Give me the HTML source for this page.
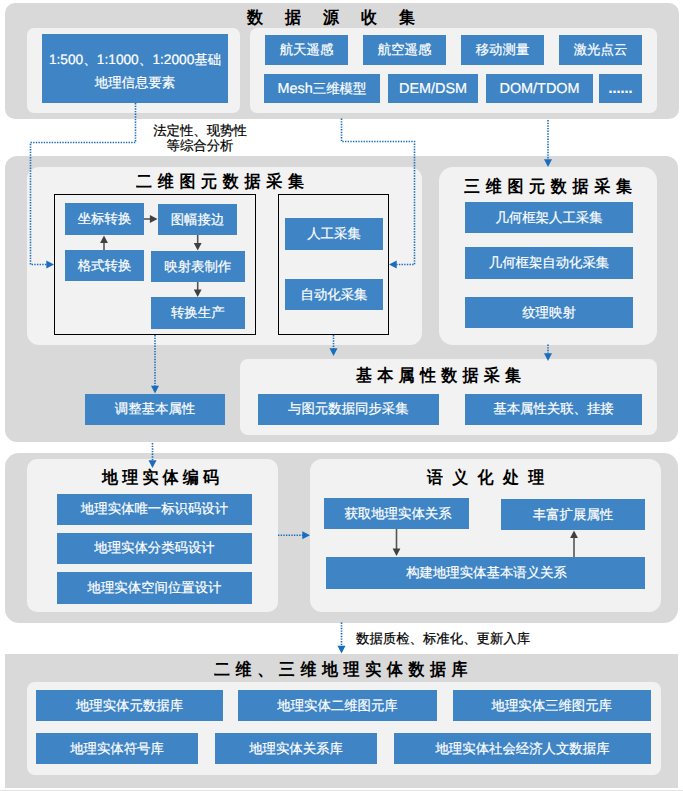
<!DOCTYPE html>
<html><head><meta charset="utf-8"><style>
html,body{margin:0;padding:0;background:#fff;}
body{width:683px;height:791px;position:relative;overflow:hidden;font-family:"Liberation Sans",sans-serif;text-rendering:geometricPrecision;}
.b{position:absolute;background:#3f85c5;color:#fff;-webkit-text-stroke:0.2px #fff;text-align:center;white-space:nowrap;}
.t{position:absolute;font-weight:bold;color:#000;line-height:22px;transform:scaleY(1.06);transform-origin:50% 50%;}
.a{position:absolute;font-size:13.4px;line-height:15.5px;color:#000;-webkit-text-stroke:0.2px #000;text-align:center;white-space:nowrap;}
svg{position:absolute;left:0;top:0;}
.L{font-size:14.4px;}
</style></head><body>
<div style="position:absolute;left:5px;top:3px;width:674px;height:115.5px;background:#d9d9d9;border-radius:10px;"></div><div class="t" style="left:247.0px;top:8.2px;font-size:16px;">数</div><div class="t" style="left:285.0px;top:8.2px;font-size:16px;">据</div><div class="t" style="left:323.0px;top:8.2px;font-size:16px;">源</div><div class="t" style="left:361.0px;top:8.2px;font-size:16px;">收</div><div class="t" style="left:399.0px;top:8.2px;font-size:16px;">集</div><div style="position:absolute;left:27px;top:28px;width:213px;height:84.5px;background:#f2f2f2;border-radius:7px;"></div><div style="position:absolute;left:250px;top:28px;width:407px;height:84.5px;background:#f2f2f2;border-radius:7px;"></div><div class="b" style="left:42px;top:34px;width:186px;height:69px;font-size:13.4px;line-height:23px;padding-top:14px;box-sizing:border-box;"><span style="font-size:13.7px">1:500、1:1000、1:2000</span>基础<br>地理信息要素</div><div class="b" style="left:265px;top:35px;width:83px;height:30px;line-height:30px;font-size:13.4px;">航天遥感</div><div class="b" style="left:363px;top:35px;width:83px;height:30px;line-height:30px;font-size:13.4px;">航空遥感</div><div class="b" style="left:461px;top:35px;width:83px;height:30px;line-height:30px;font-size:13.4px;">移动测量</div><div class="b" style="left:559px;top:35px;width:83px;height:30px;line-height:30px;font-size:13.4px;">激光点云</div><div class="b" style="left:264px;top:74px;width:116px;height:29px;line-height:29px;font-size:13.4px;"><span class="L">Mesh</span>三维模型</div><div class="b" style="left:388px;top:74px;width:90px;height:29px;line-height:29px;font-size:13.4px;"><span class="L">DEM/DSM</span></div><div class="b" style="left:486px;top:74px;width:107px;height:29px;line-height:29px;font-size:13.4px;"><span class="L">DOM/TDOM</span></div><div class="b" style="left:599px;top:74px;width:43px;height:29px;line-height:29px;font-size:13.4px;"><span class="L" style="font-weight:bold">......</span></div><div class="a" style="left:140px;top:122.5px;width:120px;">法定性、现势性<br>等综合分析</div><div style="position:absolute;left:5px;top:156px;width:673px;height:285.5px;background:#d9d9d9;border-radius:12px;"></div><div style="position:absolute;left:27px;top:167px;width:395px;height:178px;background:#f2f2f2;border-radius:12px;"></div><div class="t" style="left:136.0px;top:171.5px;font-size:16px;">二</div><div class="t" style="left:157.7px;top:171.5px;font-size:16px;">维</div><div class="t" style="left:179.4px;top:171.5px;font-size:16px;">图</div><div class="t" style="left:201.1px;top:171.5px;font-size:16px;">元</div><div class="t" style="left:222.8px;top:171.5px;font-size:16px;">数</div><div class="t" style="left:244.5px;top:171.5px;font-size:16px;">据</div><div class="t" style="left:266.2px;top:171.5px;font-size:16px;">采</div><div class="t" style="left:287.9px;top:171.5px;font-size:16px;">集</div><div style="position:absolute;left:54px;top:194px;width:202px;height:141px;border:1px solid #000;box-sizing:border-box;"></div><div style="position:absolute;left:278px;top:194px;width:111px;height:141px;border:1px solid #000;box-sizing:border-box;"></div><div class="b" style="left:65px;top:203px;width:79px;height:32px;line-height:32px;font-size:13.4px;">坐标转换</div><div class="b" style="left:158px;top:204px;width:79px;height:31px;line-height:31px;font-size:13.4px;">图幅接边</div><div class="b" style="left:65px;top:250px;width:79px;height:31px;line-height:31px;font-size:13.4px;">格式转换</div><div class="b" style="left:151px;top:251px;width:93.5px;height:31px;line-height:31px;font-size:13.4px;">映射表制作</div><div class="b" style="left:151px;top:297px;width:93.5px;height:31.600000000000023px;line-height:31.600000000000023px;font-size:13.4px;">转换生产</div><div class="b" style="left:285px;top:218px;width:98px;height:32px;line-height:32px;font-size:13.4px;">人工采集</div><div class="b" style="left:285px;top:279px;width:98px;height:31px;line-height:31px;font-size:13.4px;">自动化采集</div><div style="position:absolute;left:439px;top:167px;width:218px;height:177.5px;background:#f2f2f2;border-radius:14px;"></div><div class="t" style="left:464.0px;top:176.5px;font-size:16px;">三</div><div class="t" style="left:485.7px;top:176.5px;font-size:16px;">维</div><div class="t" style="left:507.4px;top:176.5px;font-size:16px;">图</div><div class="t" style="left:529.1px;top:176.5px;font-size:16px;">元</div><div class="t" style="left:550.8px;top:176.5px;font-size:16px;">数</div><div class="t" style="left:572.5px;top:176.5px;font-size:16px;">据</div><div class="t" style="left:594.2px;top:176.5px;font-size:16px;">采</div><div class="t" style="left:615.9px;top:176.5px;font-size:16px;">集</div><div class="b" style="left:465px;top:202px;width:168px;height:31px;line-height:31px;font-size:13.4px;">几何框架人工采集</div><div class="b" style="left:465px;top:247px;width:168px;height:31.5px;line-height:31.5px;font-size:13.4px;">几何框架自动化采集</div><div class="b" style="left:465px;top:297px;width:168px;height:31px;line-height:31px;font-size:13.4px;">纹理映射</div><div style="position:absolute;left:240px;top:359px;width:417px;height:75.5px;background:#f2f2f2;border-radius:8px;"></div><div class="t" style="left:356.0px;top:366.0px;font-size:16px;">基</div><div class="t" style="left:377.3px;top:366.0px;font-size:16px;">本</div><div class="t" style="left:398.6px;top:366.0px;font-size:16px;">属</div><div class="t" style="left:419.9px;top:366.0px;font-size:16px;">性</div><div class="t" style="left:441.2px;top:366.0px;font-size:16px;">数</div><div class="t" style="left:462.5px;top:366.0px;font-size:16px;">据</div><div class="t" style="left:483.8px;top:366.0px;font-size:16px;">采</div><div class="t" style="left:505.1px;top:366.0px;font-size:16px;">集</div><div class="b" style="left:258px;top:394px;width:180.7px;height:30.5px;line-height:30.5px;font-size:13.4px;">与图元数据同步采集</div><div class="b" style="left:465px;top:394px;width:177px;height:30.5px;line-height:30.5px;font-size:13.4px;">基本属性关联、挂接</div><div class="b" style="left:85px;top:394px;width:140px;height:30.69999999999999px;line-height:30.69999999999999px;font-size:13.4px;">调整基本属性</div><div style="position:absolute;left:5px;top:453px;width:673px;height:169.5px;background:#d9d9d9;border-radius:14px;"></div><div style="position:absolute;left:27px;top:459px;width:251px;height:153px;background:#f2f2f2;border-radius:10px;"></div><div class="t" style="left:102.0px;top:467.5px;font-size:16px;">地</div><div class="t" style="left:122.2px;top:467.5px;font-size:16px;">理</div><div class="t" style="left:142.4px;top:467.5px;font-size:16px;">实</div><div class="t" style="left:162.6px;top:467.5px;font-size:16px;">体</div><div class="t" style="left:182.8px;top:467.5px;font-size:16px;">编</div><div class="t" style="left:203.0px;top:467.5px;font-size:16px;">码</div><div class="b" style="left:57px;top:494px;width:195px;height:30.5px;line-height:30.5px;font-size:13.4px;">地理实体唯一标识码设计</div><div class="b" style="left:57px;top:533px;width:195px;height:30.5px;line-height:30.5px;font-size:13.4px;">地理实体分类码设计</div><div class="b" style="left:57px;top:572px;width:195px;height:31.5px;line-height:31.5px;font-size:13.4px;">地理实体空间位置设计</div><div style="position:absolute;left:310px;top:459px;width:351px;height:152.5px;background:#f2f2f2;border-radius:12px;"></div><div class="t" style="left:427.0px;top:467.5px;font-size:16px;">语</div><div class="t" style="left:452.3px;top:467.5px;font-size:16px;">义</div><div class="t" style="left:477.6px;top:467.5px;font-size:16px;">化</div><div class="t" style="left:502.9px;top:467.5px;font-size:16px;">处</div><div class="t" style="left:528.2px;top:467.5px;font-size:16px;">理</div><div class="b" style="left:324px;top:498px;width:145px;height:31px;line-height:31px;font-size:13.4px;padding-left:3px;box-sizing:border-box;">获取地理实体关系</div><div class="b" style="left:501px;top:499px;width:144px;height:31px;line-height:31px;font-size:13.4px;">丰富扩展属性</div><div class="b" style="left:326px;top:557px;width:319px;height:31.5px;line-height:31.5px;font-size:13.4px;padding-left:2px;box-sizing:border-box;">构建地理实体基本语义关系</div><div class="a" style="left:356px;top:630.5px;width:200px;text-align:left;">数据质检、标准化、更新入库</div><div style="position:absolute;left:5px;top:654px;width:673px;height:134px;background:#d9d9d9;border-radius:0px;"></div><div class="t" style="left:214.0px;top:659.5px;font-size:16px;">二</div><div class="t" style="left:235.6px;top:659.5px;font-size:16px;">维</div><div class="t" style="left:257.2px;top:659.5px;font-size:16px;">、</div><div class="t" style="left:278.8px;top:659.5px;font-size:16px;">三</div><div class="t" style="left:300.4px;top:659.5px;font-size:16px;">维</div><div class="t" style="left:322.0px;top:659.5px;font-size:16px;">地</div><div class="t" style="left:343.6px;top:659.5px;font-size:16px;">理</div><div class="t" style="left:365.2px;top:659.5px;font-size:16px;">实</div><div class="t" style="left:386.8px;top:659.5px;font-size:16px;">体</div><div class="t" style="left:408.4px;top:659.5px;font-size:16px;">数</div><div class="t" style="left:430.0px;top:659.5px;font-size:16px;">据</div><div class="t" style="left:451.6px;top:659.5px;font-size:16px;">库</div><div style="position:absolute;left:27px;top:682px;width:634px;height:93px;background:#f2f2f2;border-radius:8px;"></div><div class="b" style="left:36px;top:690px;width:187px;height:31px;line-height:31px;font-size:13.4px;">地理实体元数据库</div><div class="b" style="left:238px;top:690px;width:199px;height:31px;line-height:31px;font-size:13.4px;">地理实体二维图元库</div><div class="b" style="left:452.5px;top:690px;width:198.5px;height:31px;line-height:31px;font-size:13.4px;">地理实体三维图元库</div><div class="b" style="left:36px;top:733px;width:162px;height:31px;line-height:31px;font-size:13.4px;">地理实体符号库</div><div class="b" style="left:215px;top:733px;width:162px;height:31px;line-height:31px;font-size:13.4px;">地理实体关系库</div><div class="b" style="left:394px;top:733px;width:257px;height:31px;line-height:31px;font-size:13.4px;">地理实体社会经济人文数据库</div><div style="position:absolute;left:0px;top:790px;width:683px;height:1px;background:#e2e2e2;border-radius:0px;"></div>
<svg width="683" height="791" viewBox="0 0 683 791"><path d="M135.5 103 V142.5 H30.5 V264.5 H47" fill="none" stroke="#1a6cbe" stroke-width="1.6" stroke-dasharray="1.4 1.25"/><polygon points="46.3,260.5 46.3,268.5 54,264.5" fill="#1a6cbe"/><path d="M341.5 118.5 V141.5 H414.5 V264.5 H396" fill="none" stroke="#1a6cbe" stroke-width="1.6" stroke-dasharray="1.4 1.25"/><polygon points="396.7,260.5 396.7,268.5 389,264.5" fill="#1a6cbe"/><path d="M548 120 V159" fill="none" stroke="#1a6cbe" stroke-width="1.6" stroke-dasharray="1.4 1.25"/><polygon points="544,159.3 552,159.3 548,167" fill="#1a6cbe"/><path d="M155 335 V386" fill="none" stroke="#1a6cbe" stroke-width="1.6" stroke-dasharray="1.4 1.25"/><polygon points="151,385.8 159,385.8 155,393.5" fill="#1a6cbe"/><path d="M333.5 335 V349" fill="none" stroke="#1a6cbe" stroke-width="1.6" stroke-dasharray="1.4 1.25"/><polygon points="329.5,348.3 337.5,348.3 333.5,356" fill="#1a6cbe"/><path d="M548 344.5 V353.5" fill="none" stroke="#1a6cbe" stroke-width="1.6" stroke-dasharray="1.4 1.25"/><polygon points="544,353.3 552,353.3 548,361" fill="#1a6cbe"/><path d="M152.5 443 V461" fill="none" stroke="#1a6cbe" stroke-width="1.6" stroke-dasharray="1.4 1.25"/><polygon points="148.5,460.3 156.5,460.3 152.5,468" fill="#1a6cbe"/><path d="M278 535.2 H303" fill="none" stroke="#1a6cbe" stroke-width="1.6" stroke-dasharray="1.4 1.25"/><polygon points="302.3,531.2 302.3,539.2 310,535.2" fill="#1a6cbe"/><path d="M341.5 622.5 V646" fill="none" stroke="#1a6cbe" stroke-width="1.6" stroke-dasharray="1.4 1.25"/><polygon points="337.5,645.8 345.5,645.8 341.5,653.5" fill="#1a6cbe"/><path d="M144 219 H151" fill="none" stroke="#555" stroke-width="1.6"/><polygon points="149.9,215.1 149.9,222.9 157.5,219" fill="#404040"/><path d="M104 250 H104 V242" fill="none" stroke="#555" stroke-width="1.6"/><polygon points="100.1,243.1 107.9,243.1 104,235.5" fill="#404040"/><path d="M197.7 235 V244" fill="none" stroke="#555" stroke-width="1.6"/><polygon points="193.79999999999998,242.9 201.6,242.9 197.7,250.5" fill="#404040"/><path d="M197.7 282 V290" fill="none" stroke="#555" stroke-width="1.6"/><polygon points="193.79999999999998,289.4 201.6,289.4 197.7,297" fill="#404040"/><path d="M396.5 529 V550" fill="none" stroke="#555" stroke-width="1.6"/><polygon points="392.6,548.4 400.4,548.4 396.5,556" fill="#404040"/><path d="M574 557 V536" fill="none" stroke="#555" stroke-width="1.6"/><polygon points="570.1,538.1 577.9,538.1 574,530.5" fill="#404040"/></svg>
</body></html>
